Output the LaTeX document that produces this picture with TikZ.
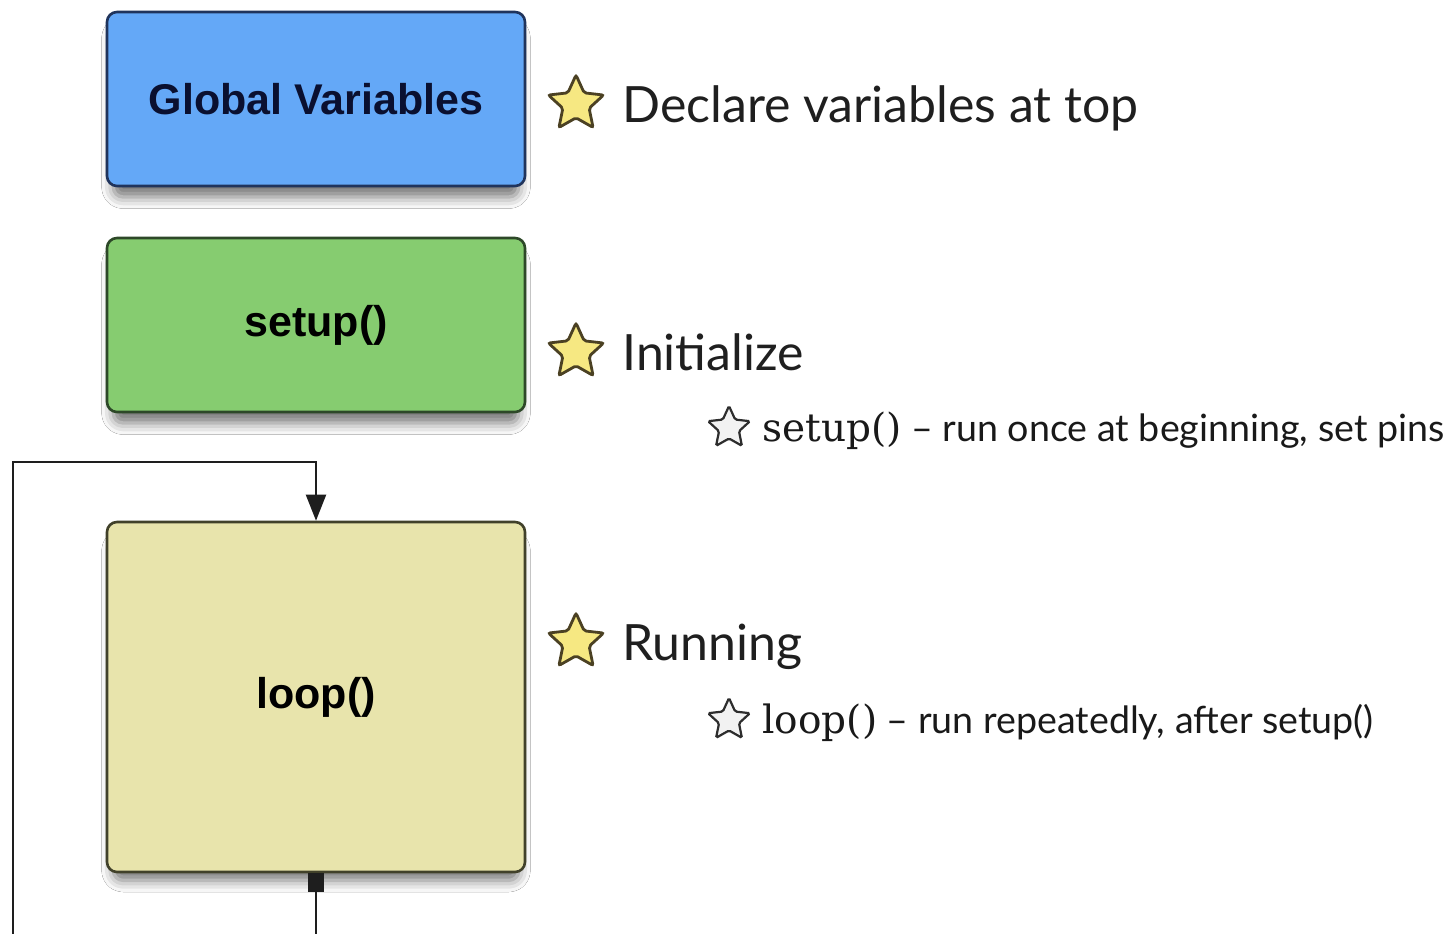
\documentclass[tikz,border=0pt]{standalone}
\usepackage{fontspec}
\setmainfont{Lato}
\newfontfamily\boxfont{Liberation Sans}
\newfontfamily\codefont{DejaVu Serif}
\usetikzlibrary{shapes.geometric,arrows.meta,shadows.blur}
\definecolor{gvfill}{RGB}{100,168,247}
\definecolor{gvline}{RGB}{32,52,92}
\definecolor{gvtext}{RGB}{10,16,48}
\definecolor{sufill}{RGB}{134,204,112}
\definecolor{suline}{RGB}{45,72,40}
\definecolor{lpfill}{RGB}{232,228,172}
\definecolor{lpline}{RGB}{65,65,42}
\definecolor{starfill}{RGB}{246,232,130}
\definecolor{starline}{RGB}{75,65,35}
\definecolor{conncol}{RGB}{30,30,30}
\tikzset{
  block/.style={draw=#1, line width=1.3pt, rounded corners=5pt, minimum width=209pt,
    blur shadow={shadow xshift=0pt, shadow yshift=-7pt, shadow blur radius=6pt, shadow opacity=55, shadow scale=0.97},
    font=\boxfont\bfseries\fontsize{21.5}{24}\selectfont},
  bigstar/.style={star, star points=5, star point ratio=2.1, minimum size=29pt, inner sep=0pt,
    fill=starfill, draw=starline, line width=1.4pt, rounded corners=1pt},
  smallstar/.style={star, star points=5, star point ratio=2.1, minimum size=22pt, inner sep=0pt,
    fill=gray!10, draw=gray!35!black, line width=1.1pt, rounded corners=0.8pt},
  mainlabel/.style={anchor=base west, inner sep=0pt, font=\fontsize{25}{30}\selectfont, text=black!88},
  sublabel/.style={anchor=base west, inner sep=0pt, font=\fontsize{18.8}{22}\selectfont, text=black!90},
  conn/.style={draw=conncol, line width=1pt}
}
\newcommand{\codepart}[1]{{\codefont\fontsize{19.5}{22}\selectfont #1}}
\begin{document}
\begin{tikzpicture}[x=0.5pt,y=-0.5pt]
\useasboundingbox[fill=white] (0,0) rectangle (1449,933);
% boxes
\node[block=gvline, fill=gvfill, minimum height=87pt, text=gvtext] (gv) at (316,99) {Global Variables};
\node[block=suline, fill=sufill, minimum height=87pt] (setup) at (316,325) {setup()};
\node[block=lpline, fill=lpfill, minimum height=175pt] (loop) at (316,697) {loop()};
% loop connector
\coordinate (bl) at (316,950);
\coordinate (tl) at (13,462);
\draw[conn, {Square[length=9.5pt,width=8pt]}-{Triangle[length=13pt,width=10pt]}]
  (loop.south) -- (bl) -| (tl) -| (loop.north);
% stars and labels
\node[bigstar] (s1) at (576,104) {};
\node[mainlabel] (l1) at (622,122) {Declare variables at top};
\node[bigstar] (s2) at (576,352) {};
\node[mainlabel] (l2) at (622,370) {Initialize};
\node[smallstar] (ss2) at (729,428) {};
\node[sublabel] (sl2) at (762,441) {\codepart{setup()} – run once at beginning, set pins};
\node[bigstar] (s3) at (576,642) {};
\node[mainlabel] (l3) at (622,660) {Running};
\node[smallstar] (ss3) at (729,720) {};
\node[sublabel] (sl3) at (762,733) {\codepart{loop()} – run repeatedly, after setup()};
\end{tikzpicture}
\end{document}
